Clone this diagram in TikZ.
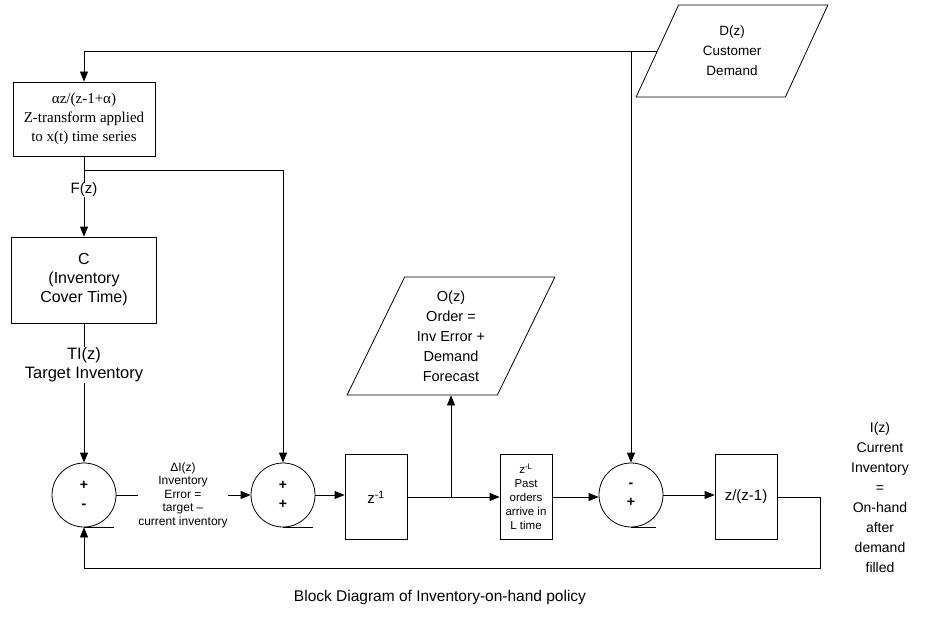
\documentclass[tikz,border=0pt]{standalone}
\usepackage{fontspec}
\setmainfont{Liberation Sans}
\newfontfamily\timesfont{Liberation Serif}
\usetikzlibrary{arrows.meta,shapes.geometric}

\begin{document}
\begin{tikzpicture}[x=1pt,y=-1pt,line width=0.8pt,
		>={Triangle[length=10pt,width=8pt]},
		blk/.style={draw, align=center, inner sep=0pt},
		sumc/.style={draw, circle, minimum size=64pt, inner sep=0pt, align=center, font=\bfseries\fontsize{14}{19}\selectfont},
		io/.style={draw, trapezium, trapezium left angle=65, trapezium right angle=115, trapezium stretches=true, align=center, inner sep=0pt},
		lbl/.style={align=center, inner sep=0pt, font=\fontsize{14}{20}\selectfont}]
		\useasboundingbox (0,0) rectangle (925,623);

		\node[io, minimum width=192pt, minimum height=92pt, font=\fontsize{13.5}{20}\selectfont] (dem) at (732,51) {D(z)\\Customer\\Demand};
		\node[blk, minimum width=142pt, minimum height=74pt, font={\timesfont\fontsize{15}{19}\selectfont}] (xf) at (84,119) {αz/(z-1+α)\\Z-transform applied\\to x(t) time series};
		\node[lbl, font=\fontsize{15}{19}\selectfont] (fz) at (84,190) {F(z)};
		\node[blk, minimum width=145pt, minimum height=86pt, font=\fontsize{16}{19}\selectfont] (cov) at (84,280) {C\\(Inventory\\Cover Time)};
		\node[lbl, font=\fontsize{16.5}{19}\selectfont] (ti) at (84,365) {TI(z)\\Target Inventory};

		\node[sumc] (s1) at (84,495) {+\\-};
		\node[lbl, font=\fontsize{12}{13.5}\selectfont] (err) at (183,495) {ΔI(z)\\Inventory\\Error =\\target –\\current inventory};
		\node[sumc] (s2) at (283,495) {+\\+};
		\node[blk, minimum width=62pt, minimum height=85pt, font=\fontsize{15}{19}\selectfont] (d1) at (376,497) {z\textsuperscript{-1}};
		\node[io, minimum width=208pt, minimum height=118pt, font=\fontsize{14.5}{20}\selectfont] (ord) at (451,336) {O(z)\\Order =\\Inv Error +\\Demand\\Forecast};
		\node[blk, minimum width=52pt, minimum height=85pt, font=\fontsize{11.5}{14}\selectfont] (dL) at (526,497) {z\textsuperscript{-L}\\Past\\orders\\arrive in\\L time};
		\node[sumc] (s3) at (631,495) {-\\+};
		\node[blk, minimum width=62pt, minimum height=85pt, font=\fontsize{15}{19}\selectfont] (int) at (746,497) {z/(z-1)};
		\node[lbl] (inv) at (880,497) {I(z)\\Current\\Inventory\\=\\On-hand\\after\\demand\\filled};
		\node[lbl, font=\fontsize{15.5}{19}\selectfont] (cap) at (440,597) {Block Diagram of Inventory-on-hand policy};

		\coordinate (br) at (84,170);
		\coordinate (fb) at (820,568);

		\draw[->] (dem.west) -| (xf.north);
		\draw[->] (dem.west -| s3.north) -- (s3.north);
		\draw (xf.south) -- (fz.north);
		\draw[->] (br) -| (s2.north);
		\draw[->] (fz.south) -- (cov.north);
		\draw (cov.south) -- (ti.north);
		\draw[->] (ti.south) -- (s1.north);

		\draw (s1.east) -- (err.west |- s1.east);
		\draw[->] (err.east |- s2.west) -- (s2.west);
		\draw[->] (s2.east) -- (d1.west |- s2.east);
		\draw[->] (d1.east) -- (dL.west);
		\draw[->] (d1.east -| ord.south) -- (ord.south);
		\draw[->] (dL.east) -- (dL.east -| s3.west);
		\draw[->] (s3.east) -- (s3.east -| int.west);
		\draw[->] (int.east) -| (fb) -| (s1.south);

		\draw (s1.south) -- ++(30,0);
		\draw (s2.south) -- ++(30,0);
		\draw (s3.south) -- ++(25,0);
\end{tikzpicture}
\end{document}
